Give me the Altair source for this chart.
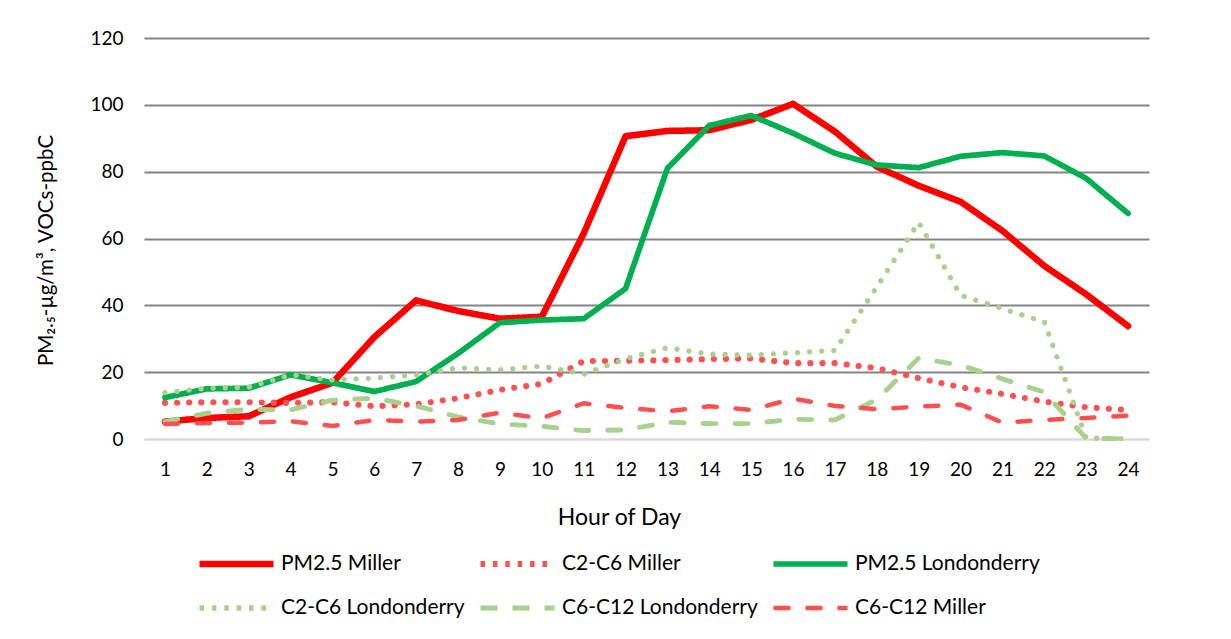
import altair as alt
import pandas as pd

hours = list(range(1, 25))
series_names = ["PM2.5 Miller", "C2-C6 Miller", "PM2.5 Londonderry",
                "C2-C6 Londonderry", "C6-C12 Londonderry", "C6-C12 Miller"]

pm25_miller = [5.2, 6.3, 6.8, 12.5, 16.8, 30.5, 41.5, 38.3, 36.0, 36.6, 61.5, 90.6,
               92.2, 92.4, 95.5, 100.3, 92.0, 81.5, 75.8, 71.0, 62.3, 51.8, 43.3, 33.8]
c2c6_miller = [10.8, 11.0, 11.0, 10.8, 11.0, 9.8, 10.4, 12.2, 14.7, 16.5, 23.3, 23.4,
               23.6, 23.9, 24.1, 22.7, 22.7, 21.2, 18.2, 15.5, 13.5, 11.2, 9.5, 8.7]
pm25_londonderry = [12.4, 15.0, 15.2, 19.2, 16.8, 14.2, 17.2, 25.6, 34.8, 35.6, 36.0, 45.0,
                    81.0, 93.8, 96.8, 91.5, 85.5, 82.0, 81.2, 84.6, 85.7, 84.7, 78.0, 67.5]
c2c6_londonderry = [13.9, 15.2, 15.5, 19.2, 17.7, 18.2, 19.2, 21.3, 20.7, 21.8, 19.4, 24.0,
                    27.3, 25.4, 25.1, 25.8, 26.5, 45.5, 64.8, 43.0, 39.0, 35.0, 0.3, 0.1]
c6c12_londonderry = [5.2, 7.7, 8.9, 8.7, 11.6, 12.2, 9.9, 6.6, 4.5, 3.8, 2.5, 2.7,
                     5.0, 4.6, 4.6, 5.9, 5.7, 11.8, 24.2, 22.1, 18.0, 14.0, 0.2, 0.1]
c6c12_miller = [4.5, 4.8, 4.9, 5.3, 3.9, 5.7, 5.2, 5.7, 7.9, 6.2, 10.7, 9.3,
                8.3, 9.8, 8.7, 12.1, 9.9, 8.9, 9.7, 10.3, 4.9, 5.7, 6.3, 7.0]

series_values = [pm25_miller, c2c6_miller, pm25_londonderry,
                 c2c6_londonderry, c6c12_londonderry, c6c12_miller]

colors = ["#FF0000", "#FF5050", "#00B050", "#A9D18E", "#A9D18E", "#FF5050"]
# line dashes (drawn with round caps) and legend dashes (butt caps)
dashes = [[1, 0], [0.1, 12], [1, 0], [0.1, 12], [13, 19], [13, 19]]
legend_dashes = [[1, 0], [4.5, 7.9], [1, 0], [4.5, 7.9], [17, 15], [17, 15]]
widths = [6.5, 4.5, 6.5, 4.5, 4.5, 4.5]

rows = []
for name, vals in zip(series_names, series_values):
    for h, v in zip(hours, vals):
        rows.append({"hour": h, "value": v, "series": name})
df = pd.DataFrame(rows)

FONT = "Lato"
legend = alt.Legend(
    title=None, orient="none", legendX=52, legendY=511, columns=3,
    direction="horizontal", clipHeight=30,
    symbolType="stroke", symbolSize=5476, labelFontSize=21, labelFont=FONT,
    labelColor="#000000", columnPadding=12, rowPadding=14, labelOffset=4,
    labelLimit=400, symbolOpacity=1,
)

x_enc = alt.X("hour:Q", scale=alt.Scale(domain=[0.5, 24.5], nice=False, zero=False),
              axis=alt.Axis(values=hours, title="Hour of Day", grid=False, ticks=False,
                            domainColor="#D9D9D9", domainWidth=2, labelFontSize=19,
                            labelPadding=21, titleFontSize=23, titleX=475, titleY=78,
                            titleBaseline="middle",
                            labelFont=FONT, titleFont=FONT, labelColor="#000000",
                            titleColor="#000000", titleFontWeight="normal"))
y_enc = alt.Y("value:Q", scale=alt.Scale(domain=[0, 120], nice=False),
              axis=alt.Axis(values=[0, 20, 40, 60, 80, 100, 120],
                            title="PM₂.₅-µg/m³, VOCs-ppbC", ticks=False, domain=False,
                            gridColor=alt.condition("datum.value == 0", alt.value("#D9D9D9"), alt.value("#848484")),
                            gridWidth=1.9, labelFontSize=19, labelPadding=21,
                            titleFontSize=20.5, titlePadding=33, titleY=212, labelFont=FONT,
                            titleFont=FONT, labelColor="#000000", titleColor="#000000",
                            titleFontWeight="normal"))

lines = alt.Chart(df).mark_line(strokeCap="round", strokeJoin="round").encode(
    x=x_enc, y=y_enc,
    color=alt.Color("series:N", scale=alt.Scale(domain=series_names, range=colors), legend=None),
    strokeDash=alt.StrokeDash("series:N", scale=alt.Scale(domain=series_names, range=dashes), legend=None),
    strokeWidth=alt.StrokeWidth("series:N", scale=alt.Scale(domain=series_names, range=widths), legend=None),
    detail="series:N",
)

legend_layer = alt.Chart(df).transform_filter("false").mark_line().encode(
    x="hour:Q", y="value:Q",
    color=alt.Color("series:N", scale=alt.Scale(domain=series_names, range=colors), legend=legend),
    strokeDash=alt.StrokeDash("series:N", scale=alt.Scale(domain=series_names, range=legend_dashes), legend=legend),
    strokeWidth=alt.StrokeWidth("series:N", scale=alt.Scale(domain=series_names, range=widths), legend=legend),
)

chart = alt.layer(lines, legend_layer).resolve_scale(
    color="independent", strokeDash="independent", strokeWidth="independent"
).properties(
    width=1005, height=401,
    autosize=alt.AutoSizeParams(type="none"),
    padding={"left": 136, "top": 30, "right": 70, "bottom": 190},
).configure_view(stroke=None)

chart.save("out.html", embed_options={"renderer": "svg", "actions": False})
